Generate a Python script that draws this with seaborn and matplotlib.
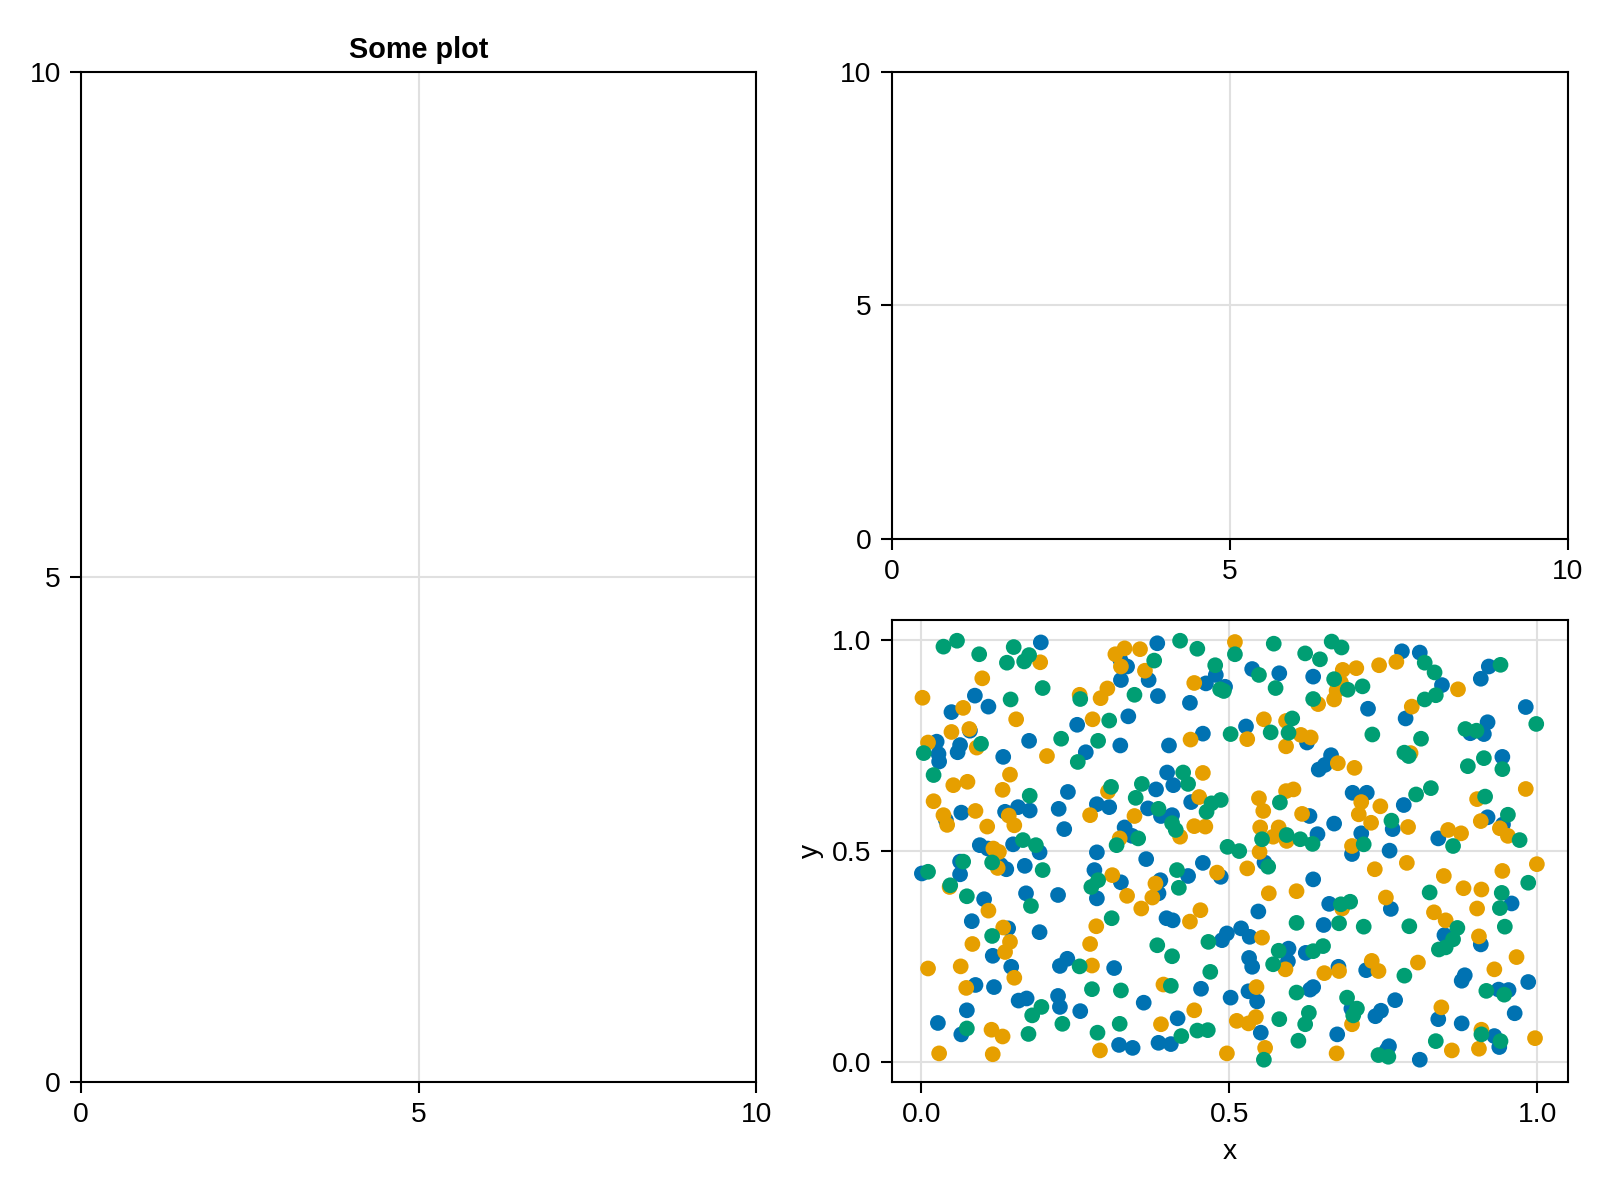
import pandas as pd
import matplotlib
matplotlib.use("Agg")
import matplotlib.pyplot as plt
import seaborn as sns

# ------------------------------------------------------------
# scatter data (three series of points in [0, 1])
blue_x = [0.194, 0.087, 0.109, 0.049, 0.079, 0.025, 0.063, 0.059, 0.028, 0.029,
          0.175, 0.133, 0.238, 0.065, 0.040, 0.136, 0.157, 0.176, 0.223, 0.232,
          0.323, 0.334, 0.383, 0.324, 0.369, 0.462, 0.384, 0.436, 0.253, 0.336,
          0.267, 0.323, 0.402, 0.457, 0.399, 0.409, 0.381, 0.285, 0.305, 0.368,
          0.389, 0.407, 0.438, 0.330, 0.780, 0.809, 0.921, 0.908, 0.537, 0.581,
          0.636, 0.478, 0.493, 0.845, 0.725, 0.786, 0.981, 0.527, 0.626, 0.891,
          0.913, 0.919, 0.665, 0.655, 0.645, 0.943, 0.700, 0.723, 0.783, 0.630,
          0.670, 0.765, 0.919, 0.944, 0.643, 0.714, 0.839, 0.342, 0.095, 0.108,
          0.149, 0.192, 0.285, 0.063, 0.001, 0.063, 0.129, 0.138, 0.168, 0.365,
          0.457, 0.281, 0.324, 0.433, 0.388, 0.385, 0.102, 0.170, 0.222, 0.285,
          0.082, 0.398, 0.408, 0.141, 0.192, 0.116, 0.237, 0.225, 0.313, 0.146,
          0.088, 0.118, 0.454, 0.158, 0.171, 0.222, 0.225, 0.258, 0.361, 0.074,
          0.027, 0.065, 0.416, 0.321, 0.343, 0.385, 0.405, 0.699, 0.760, 0.557,
          0.486, 0.636, 0.662, 0.762, 0.958, 0.547, 0.653, 0.496, 0.488, 0.519,
          0.533, 0.849, 0.908, 0.596, 0.624, 0.532, 0.537, 0.595, 0.722, 0.677,
          0.882, 0.877, 0.985, 0.531, 0.502, 0.545, 0.631, 0.636, 0.769, 0.937,
          0.953, 0.698, 0.746, 0.737, 0.839, 0.963, 0.877, 0.551, 0.675, 0.930,
          0.938, 0.759, 0.755, 0.809]
blue_y = [0.994, 0.868, 0.842, 0.829, 0.785, 0.759, 0.751, 0.734, 0.730, 0.712,
          0.761, 0.723, 0.640, 0.591, 0.573, 0.593, 0.604, 0.596, 0.600, 0.552,
          0.953, 0.937, 0.992, 0.905, 0.905, 0.897, 0.867, 0.851, 0.799, 0.819,
          0.734, 0.750, 0.750, 0.778, 0.686, 0.656, 0.646, 0.611, 0.604, 0.601,
          0.583, 0.585, 0.616, 0.556, 0.973, 0.970, 0.937, 0.908, 0.931, 0.921,
          0.913, 0.917, 0.889, 0.893, 0.837, 0.814, 0.841, 0.795, 0.757, 0.779,
          0.777, 0.805, 0.727, 0.704, 0.693, 0.723, 0.638, 0.638, 0.609, 0.583,
          0.565, 0.552, 0.580, 0.563, 0.540, 0.542, 0.530, 0.536, 0.514, 0.506,
          0.516, 0.497, 0.497, 0.475, 0.447, 0.445, 0.467, 0.457, 0.465, 0.481,
          0.472, 0.455, 0.426, 0.441, 0.431, 0.400, 0.386, 0.400, 0.396, 0.388,
          0.334, 0.341, 0.336, 0.317, 0.308, 0.252, 0.245, 0.228, 0.223, 0.226,
          0.183, 0.178, 0.174, 0.146, 0.151, 0.157, 0.131, 0.121, 0.141, 0.123,
          0.093, 0.066, 0.104, 0.041, 0.034, 0.046, 0.043, 0.493, 0.501, 0.473,
          0.439, 0.433, 0.375, 0.363, 0.376, 0.357, 0.325, 0.305, 0.289, 0.317,
          0.297, 0.301, 0.279, 0.269, 0.259, 0.247, 0.226, 0.239, 0.218, 0.226,
          0.206, 0.193, 0.190, 0.168, 0.153, 0.144, 0.172, 0.178, 0.147, 0.172,
          0.171, 0.127, 0.122, 0.109, 0.102, 0.116, 0.092, 0.070, 0.066, 0.062,
          0.036, 0.038, 0.028, 0.006]

orange_x = [0.193, 0.099, 0.002, 0.068, 0.154, 0.049, 0.078, 0.011, 0.090, 0.204,
            0.144, 0.052, 0.075, 0.132, 0.020, 0.088, 0.036, 0.042, 0.142, 0.151,
            0.107, 0.315, 0.330, 0.324, 0.355, 0.363, 0.443, 0.257, 0.302, 0.291,
            0.278, 0.437, 0.457, 0.303, 0.274, 0.346, 0.451, 0.443, 0.461, 0.509,
            0.743, 0.771, 0.684, 0.706, 0.681, 0.674, 0.670, 0.871, 0.644, 0.796,
            0.556, 0.592, 0.529, 0.616, 0.632, 0.592, 0.794, 0.676, 0.703, 0.592,
            0.604, 0.548, 0.555, 0.714, 0.745, 0.710, 0.730, 0.902, 0.981, 0.618,
            0.790, 0.908, 0.939, 0.952, 0.550, 0.580, 0.571, 0.855, 0.876, 0.322,
            0.420, 0.117, 0.126, 0.124, 0.310, 0.380, 0.375, 0.046, 0.334, 0.357,
            0.109, 0.453, 0.436, 0.133, 0.284, 0.144, 0.083, 0.136, 0.274, 0.277,
            0.011, 0.064, 0.151, 0.073, 0.393, 0.443, 0.114, 0.132, 0.389, 0.029,
            0.116, 0.290, 0.593, 0.699, 0.549, 0.480, 0.529, 0.736, 0.788, 0.848,
            0.943, 0.564, 0.609, 0.880, 0.909, 0.754, 0.683, 0.832, 0.902, 0.851,
            0.553, 0.905, 0.591, 0.731, 0.742, 0.806, 0.966, 0.678, 0.654, 0.930,
            0.544, 0.699, 0.844, 0.512, 0.531, 0.543, 0.909, 0.558, 0.496, 0.674,
            0.861, 0.905, 0.999, 0.996]
orange_y = [0.947, 0.909, 0.863, 0.839, 0.812, 0.782, 0.789, 0.757, 0.745, 0.725,
            0.681, 0.656, 0.664, 0.645, 0.618, 0.595, 0.585, 0.562, 0.584, 0.561,
            0.558, 0.966, 0.980, 0.937, 0.978, 0.927, 0.898, 0.870, 0.885, 0.862,
            0.812, 0.764, 0.685, 0.641, 0.585, 0.583, 0.628, 0.559, 0.558, 0.995,
            0.940, 0.948, 0.929, 0.933, 0.899, 0.880, 0.859, 0.883, 0.848, 0.842,
            0.812, 0.808, 0.765, 0.775, 0.769, 0.748, 0.732, 0.708, 0.697, 0.642,
            0.646, 0.625, 0.595, 0.616, 0.606, 0.587, 0.567, 0.623, 0.647, 0.588,
            0.557, 0.571, 0.554, 0.536, 0.556, 0.556, 0.534, 0.550, 0.542, 0.530,
            0.534, 0.506, 0.498, 0.460, 0.443, 0.423, 0.390, 0.415, 0.394, 0.364,
            0.359, 0.360, 0.333, 0.319, 0.322, 0.285, 0.280, 0.261, 0.280, 0.229,
            0.222, 0.227, 0.200, 0.176, 0.184, 0.123, 0.077, 0.061, 0.090, 0.021,
            0.019, 0.028, 0.524, 0.512, 0.498, 0.449, 0.459, 0.457, 0.472, 0.441,
            0.453, 0.400, 0.405, 0.412, 0.409, 0.390, 0.364, 0.355, 0.364, 0.336,
            0.295, 0.298, 0.220, 0.240, 0.216, 0.236, 0.249, 0.216, 0.211, 0.220,
            0.178, 0.090, 0.130, 0.098, 0.092, 0.107, 0.077, 0.034, 0.021, 0.021,
            0.028, 0.032, 0.469, 0.057]

green_x = [0.036, 0.058, 0.094, 0.150, 0.139, 0.167, 0.175, 0.197, 0.145, 0.097,
           0.004, 0.020, 0.176, 0.378, 0.420, 0.448, 0.258, 0.346, 0.305, 0.227,
           0.287, 0.254, 0.425, 0.433, 0.358, 0.308, 0.348, 0.385, 0.463, 0.407,
           0.413, 0.509, 0.572, 0.666, 0.682, 0.623, 0.647, 0.817, 0.833, 0.940,
           0.548, 0.670, 0.692, 0.716, 0.575, 0.835, 0.817, 0.636, 0.477, 0.485,
           0.491, 0.602, 0.502, 0.567, 0.596, 0.732, 0.811, 0.883, 0.901, 0.784,
           0.791, 0.913, 0.887, 0.943, 0.582, 0.803, 0.827, 0.915, 0.471, 0.486,
           0.763, 0.952, 0.593, 0.615, 0.553, 0.971, 0.317, 0.352, 0.165, 0.186,
           0.068, 0.011, 0.115, 0.197, 0.287, 0.276, 0.415, 0.418, 0.047, 0.074,
           0.178, 0.309, 0.115, 0.383, 0.466, 0.407, 0.257, 0.469, 0.277, 0.324,
           0.405, 0.195, 0.180, 0.074, 0.174, 0.229, 0.286, 0.322, 0.422, 0.448,
           0.465, 0.635, 0.718, 0.863, 0.497, 0.516, 0.563, 0.985, 0.825, 0.942,
           0.681, 0.696, 0.939, 0.609, 0.678, 0.718, 0.792, 0.870, 0.947, 0.863,
           0.851, 0.840, 0.580, 0.636, 0.652, 0.571, 0.784, 0.609, 0.691, 0.917,
           0.946, 0.707, 0.701, 0.581, 0.629, 0.623, 0.909, 0.940, 0.612, 0.835,
           0.742, 0.758, 0.556, 0.998]
green_y = [0.984, 0.998, 0.966, 0.983, 0.946, 0.949, 0.964, 0.886, 0.859, 0.754,
           0.732, 0.680, 0.631, 0.951, 0.998, 0.979, 0.860, 0.870, 0.809, 0.766,
           0.761, 0.711, 0.686, 0.659, 0.659, 0.652, 0.626, 0.600, 0.593, 0.566,
           0.550, 0.966, 0.991, 0.996, 0.982, 0.968, 0.954, 0.946, 0.923, 0.941,
           0.917, 0.907, 0.882, 0.890, 0.886, 0.869, 0.859, 0.860, 0.940, 0.883,
           0.879, 0.814, 0.777, 0.781, 0.780, 0.776, 0.766, 0.789, 0.785, 0.733,
           0.725, 0.720, 0.701, 0.694, 0.615, 0.634, 0.649, 0.629, 0.613, 0.621,
           0.572, 0.586, 0.538, 0.528, 0.528, 0.526, 0.514, 0.530, 0.526, 0.514,
           0.475, 0.451, 0.473, 0.455, 0.431, 0.415, 0.455, 0.413, 0.419, 0.393,
           0.370, 0.341, 0.299, 0.277, 0.285, 0.251, 0.227, 0.214, 0.173, 0.170,
           0.181, 0.131, 0.111, 0.080, 0.067, 0.091, 0.070, 0.091, 0.062, 0.075,
           0.076, 0.517, 0.516, 0.512, 0.510, 0.500, 0.463, 0.425, 0.402, 0.401,
           0.374, 0.380, 0.365, 0.330, 0.329, 0.321, 0.322, 0.318, 0.321, 0.291,
           0.272, 0.267, 0.264, 0.263, 0.275, 0.232, 0.205, 0.165, 0.153, 0.169,
           0.160, 0.127, 0.111, 0.102, 0.117, 0.090, 0.066, 0.050, 0.051, 0.050,
           0.017, 0.013, 0.006, 0.801]

series_names = ["a", "b", "c"]
series_colors = ["#0072B2", "#E69F00", "#009E73"]

ticks_0_10 = [0, 5, 10]
ticks_0_1 = [0.0, 0.5, 1.0]

# ------------------------------------------------------------
# long table for seaborn
points = pd.concat([
    pd.DataFrame({"x": blue_x, "y": blue_y, "series": series_names[0]}),
    pd.DataFrame({"x": orange_x, "y": orange_y, "series": series_names[1]}),
    pd.DataFrame({"x": green_x, "y": green_y, "series": series_names[2]}),
], ignore_index=True)

# ------------------------------------------------------------
# style, roughly like the Makie default look
sns.set_theme(style="whitegrid")
plt.rcParams["font.family"] = ["Liberation Sans", "DejaVu Sans"]
plt.rcParams.update({
    "font.size": 10.2,
    "text.color": "black",
    "axes.titlecolor": "black",
    "axes.edgecolor": "black",
    "axes.linewidth": 0.75,
    "grid.color": "#e0e0e0",
    "grid.linewidth": 0.75,
    "xtick.bottom": True,
    "ytick.left": True,
    "xtick.major.size": 4,
    "ytick.major.size": 4,
    "xtick.major.width": 0.75,
    "ytick.major.width": 0.75,
    "xtick.major.pad": 3.2,
    "ytick.major.pad": 3.2,
    "xtick.color": "black",
    "ytick.color": "black",
    "xtick.labelsize": 10.2,
    "ytick.labelsize": 10.2,
    "axes.labelsize": 10.2,
    "axes.labelcolor": "black",
})

fig = plt.figure(figsize=(8, 6), dpi=200)
ax_left = fig.add_axes([0.0506, 0.0986, 0.4222, 0.8417])
ax_top = fig.add_axes([0.5573, 0.5512, 0.4225, 0.3891])
ax_scatter = fig.add_axes([0.5573, 0.0986, 0.4225, 0.3847])

# ------------------------------------------------------------
# empty axes
for ax in (ax_left, ax_top):
    ax.set_xlim(0, 10)
    ax.set_ylim(0, 10)
    ax.set_xticks(ticks_0_10)
    ax.set_yticks(ticks_0_10)

ax_left.set_title("Some plot", fontweight="bold", fontsize=10.4, pad=5)

# ------------------------------------------------------------
# scatter panel
sns.scatterplot(data=points, x="x", y="y", hue="series",
                palette=series_colors, s=32, linewidth=0,
                legend=False, ax=ax_scatter, zorder=3)
ax_scatter.set_xticks(ticks_0_1)
ax_scatter.set_yticks(ticks_0_1)
ax_scatter.set_xlim(-0.048, 1.049)
ax_scatter.set_ylim(-0.046, 1.047)
ax_scatter.set_xlabel("x", labelpad=4)
ax_scatter.set_ylabel("y", labelpad=3)

for ax in (ax_left, ax_top, ax_scatter):
    ax.set_axisbelow(True)
    for sp in ax.spines.values():
        sp.set_color("black")
        sp.set_linewidth(0.75)

fig.savefig("out.png", dpi=200, facecolor="white")
